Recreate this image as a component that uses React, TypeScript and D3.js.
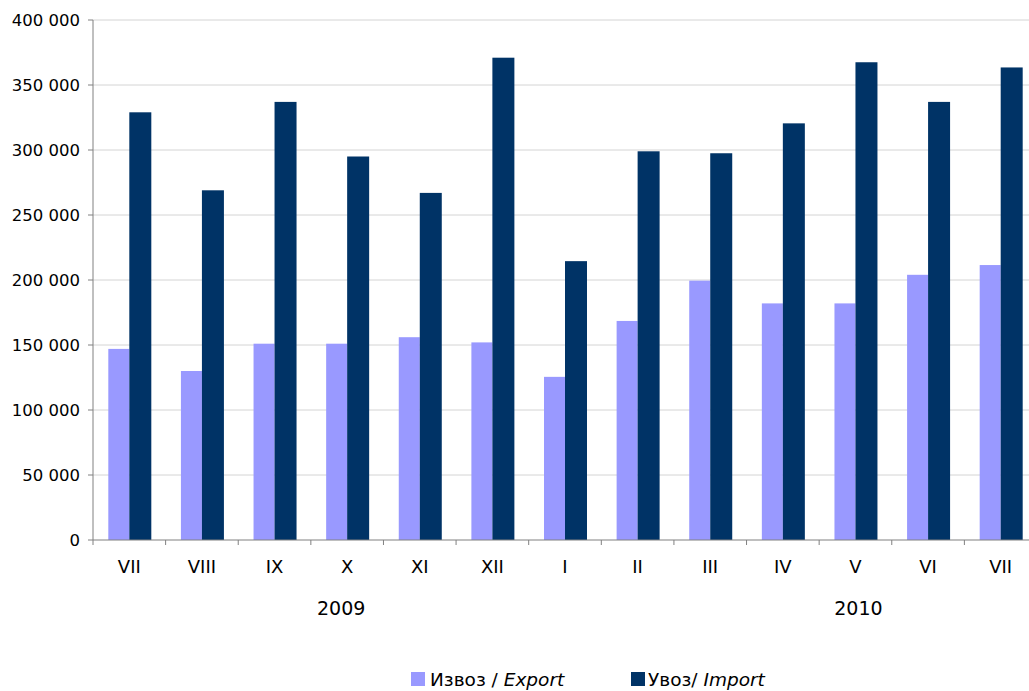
import React from "react";
import * as d3 from "d3";

const categories = ["VII", "VIII", "IX", "X", "XI", "XII", "I", "II", "III", "IV", "V", "VI", "VII "];
const exportValues = [147000, 130000, 151000, 151000, 156000, 152000, 125500, 168500, 199500, 182000, 182000, 204000, 211500];
const importValues = [329000, 269000, 337000, 295000, 267000, 371000, 214500, 299000, 297500, 320500, 367500, 337000, 363500];
const yTicks = [0, 50000, 100000, 150000, 200000, 250000, 300000, 350000, 400000];
const years = [
  { label: "2009", anchor: "X", offset: -6 },
  { label: "2010", anchor: "V", offset: 3 },
];

const W = 1029;
const H = 691;
const left = 93;
const top = 20;
const bottom = 540;
const right = 1037;
const FONT = "'DejaVu Sans', Verdana, sans-serif";
const EXP = "#9999ff";
const IMP = "#003366";

const fmt = (v: number) => d3.format(",")(v).replace(/,/g, " ");

export default function App() {
  const x = d3.scaleBand<string>().domain(categories).range([left, right]).paddingInner(0).paddingOuter(0);
  const y = d3.scaleLinear().domain([0, 400000]).range([bottom, top]);
  const bw = x.bandwidth();
  const barW = 21;

  return (
    <svg width={W} height={H} style={{ position: "absolute", left: 0, top: 0, background: "#fff" }} fontFamily={FONT}>
      {yTicks.map((t) => (
        <g key={t}>
          {t > 0 && <line x1={left} x2={right} y1={y(t)} y2={y(t)} stroke="#d4d4d4" strokeWidth={1} />}
          <line x1={left - 5} x2={left} y1={y(t)} y2={y(t)} stroke="#808080" />
          <text x={80} y={y(t)} dy="0.35em" textAnchor="end" fontSize={16.5} fill="#000">
            {fmt(t)}
          </text>
        </g>
      ))}
      {categories.map((c, i) => {
        const cx = (x(c) as number) + bw / 2;
        return (
          <g key={c}>
            <rect x={cx - barW} y={y(exportValues[i])} width={barW} height={bottom - y(exportValues[i])} fill={EXP} />
            <rect x={cx} y={y(importValues[i])} width={barW + 1} height={bottom - y(importValues[i])} fill={IMP} />
            <text x={cx} y={573} textAnchor="middle" fontSize={18} fill="#000">
              {c.trim()}
            </text>
          </g>
        );
      })}
      <line x1={left} x2={left} y1={top} y2={bottom} stroke="#808080" />
      <line x1={left} x2={right} y1={bottom} y2={bottom} stroke="#808080" />
      {categories.map((c, i) => (
        <line key={"t" + i} x1={x(c) as number} x2={x(c) as number} y1={bottom} y2={bottom + 5} stroke="#808080" />
      ))}
      {years.map((yr) => (
        <text key={yr.label} x={(x(yr.anchor) as number) + bw / 2 + yr.offset} y={615} textAnchor="middle" fontSize={19} fill="#000">
          {yr.label}
        </text>
      ))}
      <g fontSize={18.5}>
        <rect x={411} y={672} width={14} height={14} fill={EXP} />
        <text x={430} y={686} fill="#000">
          Извоз / <tspan fontStyle="italic">Export</tspan>
        </text>
        <rect x={631} y={672} width={14} height={14} fill={IMP} />
        <text x={648} y={686} fill="#000">
          Увоз/ <tspan fontStyle="italic">Import</tspan>
        </text>
      </g>
    </svg>
  );
}
